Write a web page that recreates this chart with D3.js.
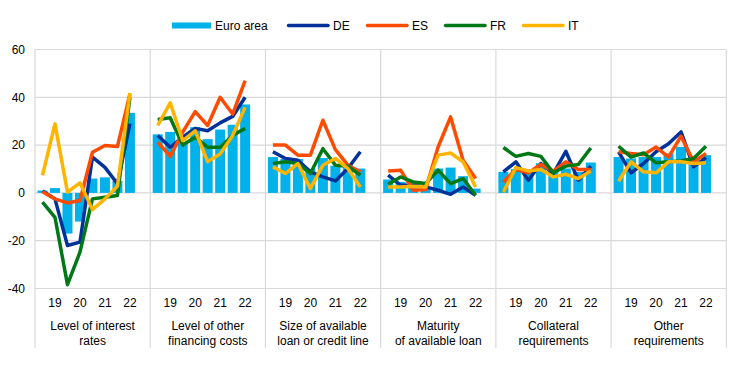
<!DOCTYPE html>
<html>
<head>
<meta charset="utf-8">
<script src="https://cdn.jsdelivr.net/npm/d3@7"></script>
<style>
  body { margin: 0; background: #fff; }
  text { font-family: Arial, "Liberation Sans", sans-serif; fill: #000; }
</style>
</head>
<body>
<div id="chart"></div>
<script>
// categories (factors) and half-year survey rounds
var groups = [
  ["Level of interest", "rates"],
  ["Level of other", "financing costs"],
  ["Size of available", "loan or credit line"],
  ["Maturity", "of available loan"],
  ["Collateral", "requirements"],
  ["Other", "requirements"]
];
var periods = ["19H1", "19H2", "20H1", "20H2", "21H1", "21H2", "22H1", "22H2"];
var periodLabels = ["", "19", "", "20", "", "21", "", "22"];
var yTicks = [-40, -20, 0, 20, 40, 60];

// net percentages, one row per factor
var euroArea = [
  [1, 2, -17, -12, 6, 6.5, 5, 33.5],
  [24.5, 25.5, 21, 27.5, 22.5, 26.5, 28.5, 37],
  [15, 14.2, 14.2, 10, 14.6, 11.4, 11.8, 10.2],
  [5.6, 4.6, 3.9, 2.5, 10.2, 10.6, 7, 1.8],
  [8.8, 10, 9.8, 12.4, 8.8, 10.2, 8.8, 12.7],
  [15, 14.4, 15, 15, 16.5, 19.2, 13.7, 15.8]
];
var de = [
  [0.8, -2.5, -22, -20.6, 15, 10.7, 3.8, 29],
  [24, 19.1, 23.3, 27, 26, 29.3, 32, 40],
  [17.2, 14.4, 13.7, 8.8, 6.7, 5, 10.2, 17.2],
  [7.4, 3.2, 3.2, 2.5, 1.1, -0.6, 2.5, -1],
  [8.8, 13, 5.3, 12.3, 8.1, 17.4, 5.3, 11.2],
  [17.2, 8.4, 12.3, 17.2, 20.6, 25.5, 10.9, 14.8]
];
var es = [
  [0.5, -2.5, -4.2, -3.2, 17, 19.8, 19.4, 41.4],
  [21.2, 15.3, 25.4, 34, 28.2, 40, 33, 47],
  [20, 20, 15.8, 15.8, 30.4, 18.1, 11.6, 8.8],
  [9.2, 9.5, 1.1, 1.4, 19.2, 31.8, 13.7, 6],
  [4.6, 9.8, 8.4, 11.9, 9.1, 13, 9.8, 9.8],
  [17.2, 16.5, 16, 19.2, 15, 23.7, 13, 16.5]
];
var fr = [
  [-3.9, -10.2, -38.4, -24.8, -2.5, -1.8, -1.1, 40],
  [30.7, 31.4, 20, 23.3, 19.1, 19.1, 24, 27],
  [12.3, 13, 12.3, 8.1, 18.5, 11.6, 11.2, 7.4],
  [3.6, 6.7, 4.6, 3.9, 9.5, 3.9, 6, -1],
  [19, 15.3, 16.5, 15.3, 8.4, 11.2, 11.9, 18.8],
  [19.5, 15, 16.7, 12.6, 13, 13.4, 14.4, 19.5]
];
var it = [
  [7.3, 28.9, 0.3, 4.2, -7, -2.5, 2.8, 41.8],
  [28.2, 37.7, 21.9, 26, 13.1, 16.3, 24, 35.8],
  [10.9, 8.1, 12.3, 1.8, 11.6, 14.4, 10.2, 2.5],
  [2.5, 2.5, 2.8, 2.5, 15.8, 16.7, 13, 2.5],
  [0.4, 10.6, 9.2, 9.8, 6.7, 7.8, 6, 9.2],
  [4.9, 13, 8.8, 8.4, 13, 13, 12.3, 12.6]
];

var lineSeries = [
  {name: "DE", color: "#003299", values: de},
  {name: "ES", color: "#ff4b00", values: es},
  {name: "FR", color: "#007816", values: fr},
  {name: "IT", color: "#ffb400", values: it}
];
var barColor = "#00b1ea";

var width = 744, height = 374;
var plotLeft = 35, plotRight = 726.3, plotTop = 49.5, plotBottom = 288.5;

var svg = d3.select("#chart")
  .append("svg")
    .attr("width", width)
    .attr("height", height);

// outer scale: one band per factor
var x0 = d3.scaleBand()
  .domain(groups.map(function(d, i) { return i; }))
  .range([plotLeft, plotRight])
  .padding(0);

// inner scale: 8 rounds + one empty slot at the end of each group
var slot = x0.bandwidth() / (periods.length + 1);
var x1 = d3.scaleBand()
  .domain(periods)
  .range([0, slot * periods.length])
  .padding(0.2);

var y = d3.scaleLinear()
  .domain([-40, 60])
  .range([plotBottom, plotTop]);

// gridlines
svg.append("g")
  .selectAll("line")
  .data(yTicks)
  .enter().append("line")
    .attr("x1", plotLeft).attr("x2", plotRight)
    .attr("y1", function(d) { return y(d); })
    .attr("y2", function(d) { return y(d); })
    .attr("stroke", "#d9d9d9")
    .attr("stroke-width", 1.2);

// group separators
svg.append("g")
  .selectAll("line")
  .data(d3.range(groups.length + 1))
  .enter().append("line")
    .attr("x1", function(i) { return i < groups.length ? x0(i) : plotRight; })
    .attr("x2", function(i) { return i < groups.length ? x0(i) : plotRight; })
    .attr("y1", plotTop).attr("y2", 348)
    .attr("stroke", "#d9d9d9")
    .attr("stroke-width", 1.2);

// y axis labels
svg.append("g")
  .selectAll("text")
  .data(yTicks)
  .enter().append("text")
    .attr("x", 25)
    .attr("y", function(d) { return y(d); })
    .attr("dy", "0.35em")
    .attr("text-anchor", "end")
    .style("font-size", "12px")
    .text(function(d) { return d; });

var g = svg.selectAll(".grp")
  .data(groups)
  .enter().append("g")
    .attr("class", "grp")
    .attr("transform", function(d, i) { return "translate(" + x0(i) + ",0)"; });

// bars
g.selectAll("rect")
  .data(function(d, i) { return euroArea[i].map(function(v, j) { return {p: periods[j], v: v}; }); })
  .enter().append("rect")
    .attr("x", function(d) { return x1(d.p); })
    .attr("y", function(d) { return y(Math.max(0, d.v)); })
    .attr("width", x1.bandwidth())
    .attr("height", function(d) { return Math.abs(y(d.v) - y(0)); })
    .attr("fill", barColor);

// lines
var line = d3.line()
  .x(function(d, j) { return x1(periods[j]) + x1.bandwidth() / 2; })
  .y(function(d) { return y(d); });

lineSeries.forEach(function(s) {
  g.append("path")
    .attr("d", function(d, i) { return line(s.values[i]); })
    .attr("fill", "none")
    .attr("stroke", s.color)
    .attr("stroke-width", 3.5)
    .attr("stroke-linejoin", "round");
});

// period tick labels
g.selectAll(".tick")
  .data(periods)
  .enter().append("text")
    .attr("class", "tick")
    .attr("x", function(p) { return x1(p) + x1.bandwidth() / 2; })
    .attr("y", 307)
    .attr("text-anchor", "middle")
    .style("font-size", "12px")
    .text(function(p, j) { return periodLabels[j]; });

// category labels
g.each(function(d) {
  var t = d3.select(this).append("text")
    .attr("text-anchor", "middle")
    .style("font-size", "12px");
  d.forEach(function(s, k) {
    t.append("tspan")
      .attr("x", x0.bandwidth() / 2)
      .attr("y", 330 + k * 15)
      .text(s);
  });
});

// legend
var legendItems = [{name: "Euro area", color: barColor, bar: true}].concat(lineSeries);
var legendX = [172, 287, 366, 444, 522];
var leg = svg.selectAll(".leg")
  .data(legendItems)
  .enter().append("g")
    .attr("class", "leg")
    .attr("transform", function(d, i) { return "translate(" + legendX[i] + ",25.5)"; });

leg.append("line")
  .attr("x1", function(d) { return d.bar ? 0 : 1.5; })
  .attr("x2", function(d) { return d.bar ? 39 : 41; })
  .attr("stroke", function(d) { return d.color; })
  .attr("stroke-width", function(d) { return d.bar ? 6 : 3.5; })
  .attr("stroke-linecap", function(d) { return d.bar ? "butt" : "round"; });

leg.append("text")
  .attr("x", function(d) { return d.bar ? 43 : 46; })
  .attr("dy", "0.35em")
  .style("font-size", "12px")
  .text(function(d) { return d.name; });
</script>
</body>
</html>
